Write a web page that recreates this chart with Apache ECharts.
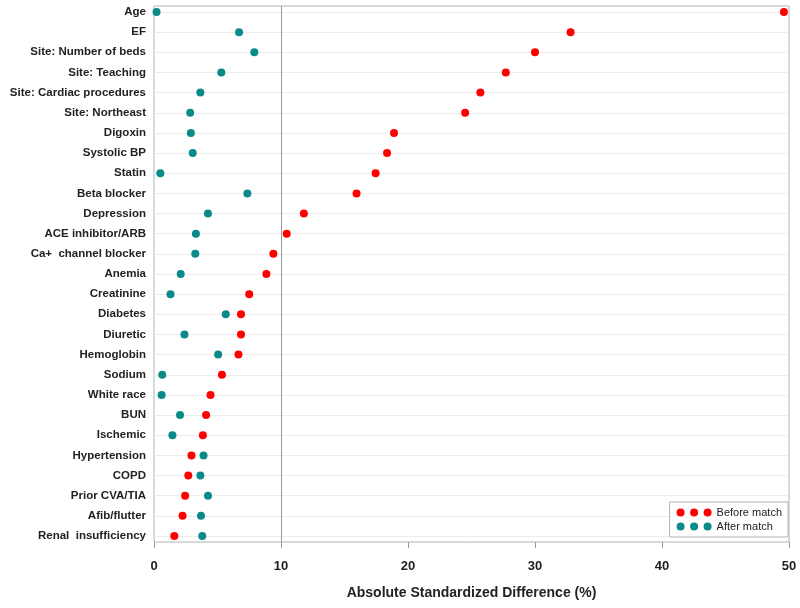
<!DOCTYPE html>
<html><head><meta charset="utf-8">
<script src="https://cdn.jsdelivr.net/npm/echarts@6/dist/echarts.min.js"></script>
<style>html,body{margin:0;padding:0;background:#fff}#c{width:800px;height:608px}</style>
</head><body><div id="c"></div>
<script>
const categories = ["Age","EF","Site: Number of beds","Site: Teaching","Site: Cardiac procedures","Site: Northeast","Digoxin","Systolic BP","Statin","Beta blocker","Depression","ACE inhibitor/ARB","Ca+  channel blocker","Anemia","Creatinine","Diabetes","Diuretic","Hemoglobin","Sodium","White race","BUN","Ischemic","Hypertension","COPD","Prior CVA/TIA","Afib/flutter","Renal  insufficiency"];
const beforeMatch = [49.6,32.8,30.0,27.7,25.7,24.5,18.9,18.35,17.45,15.95,11.8,10.45,9.4,8.85,7.5,6.85,6.85,6.65,5.35,4.45,4.1,3.85,2.95,2.7,2.45,2.25,1.6];
const afterMatch = [0.2,6.7,7.9,5.3,3.65,2.85,2.9,3.05,0.5,7.35,4.25,3.3,3.25,2.1,1.3,5.65,2.4,5.05,0.65,0.6,2.05,1.45,3.9,3.65,4.25,3.7,3.8];
const xTicks = {min:0, max:50, interval:10};
const refLine = 10;

const threeDots = 'path://M0,4a4,4 0 1,0 8,0a4,4 0 1,0 -8,0Z M13.5,4a4,4 0 1,0 8,0a4,4 0 1,0 -8,0Z M27,4a4,4 0 1,0 8,0a4,4 0 1,0 -8,0Z';
const font = '"Liberation Sans", Arial, sans-serif';
const chart = echarts.init(document.getElementById('c'), null, {renderer:'canvas'});
chart.setOption({
  animation:false,
  textStyle:{fontFamily:font},
  grid:[
    {left:154, right:11, top:12, bottom:72},
    {left:154, right:11, top:6, bottom:66, show:true, borderColor:'#b4b4b4', borderWidth:1, backgroundColor:'transparent'}
  ],
  xAxis:[
    {gridIndex:0, type:'value', min:xTicks.min, max:xTicks.max, interval:xTicks.interval, offset:6,
     axisLine:{show:false}, axisTick:{show:true, length:6, lineStyle:{color:'#999'}},
     axisLabel:{margin:18, color:'#222', fontSize:13, fontWeight:'bold', fontFamily:font},
     splitLine:{show:false},
     name:'Absolute Standardized Difference (%)', nameLocation:'middle', nameGap:44,
     nameTextStyle:{fontSize:14, fontWeight:'bold', color:'#222', fontFamily:font}},
    {gridIndex:1, type:'value', min:xTicks.min, max:xTicks.max, show:false}
  ],
  yAxis:[
    {gridIndex:0, type:'category', data:categories, inverse:true, boundaryGap:false,
     axisLine:{show:false}, axisTick:{show:false},
     axisLabel:{margin:8, color:'#222', fontSize:11.5, fontWeight:'bold', fontFamily:font},
     splitLine:{show:true, lineStyle:{color:'#ececec', width:1}}},
    {gridIndex:1, type:'value', min:0, max:1, show:false}
  ],
  legend:{
    right:12, bottom:71, orient:'vertical', icon:threeDots, itemWidth:35, itemHeight:8, itemGap:3,
    padding:[5,6,5,7], borderColor:'#b4b4b4', borderWidth:1, backgroundColor:'#fff',
    textStyle:{fontSize:11, color:'#222', fontFamily:font},
    data:['Before match','After match']
  },
  series:[
    {name:'ref', type:'scatter', xAxisIndex:1, yAxisIndex:1, data:[], silent:true,
     markLine:{silent:true, symbol:'none', label:{show:false}, lineStyle:{color:'#9a9a9a', type:'solid', width:1},
       data:[{xAxis:refLine}]}},
    {name:'Before match', type:'scatter', symbolSize:8, itemStyle:{color:'#ff0000', opacity:1},
     data:beforeMatch.map((v,i)=>[v,categories[i]])},
    {name:'After match', type:'scatter', symbolSize:8, itemStyle:{color:'#0a8a88', opacity:1},
     data:afterMatch.map((v,i)=>[v,categories[i]])}
  ]
});
</script></body></html>
